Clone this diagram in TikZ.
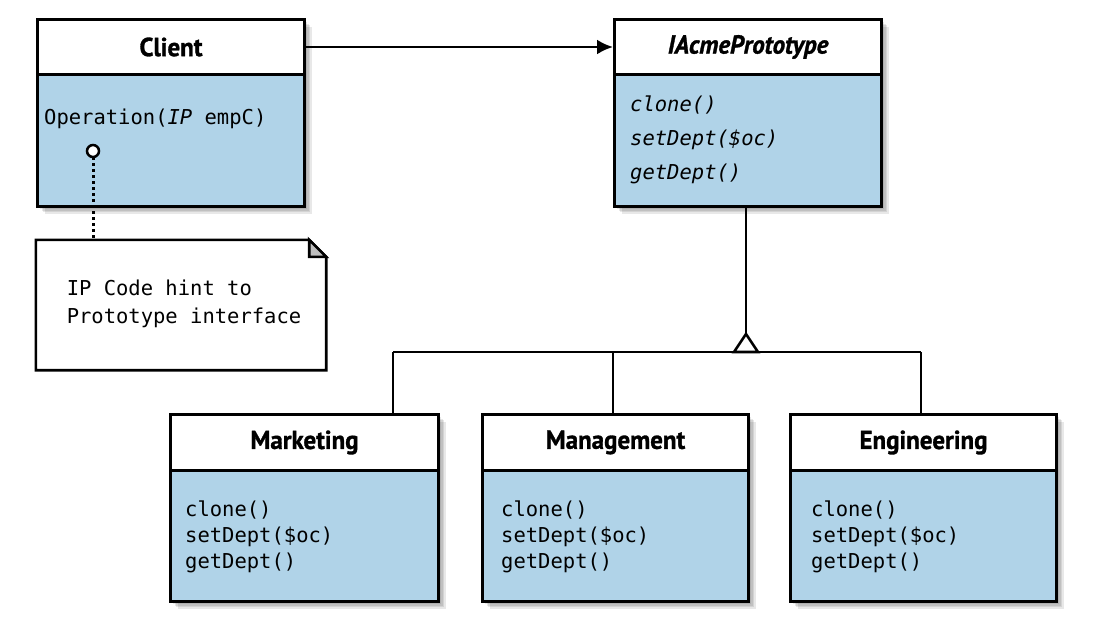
\documentclass[tikz,border=0pt]{standalone}
\usepackage{fontspec}
\setmainfont{PT Sans}
\newfontfamily\hdfont[FakeStretch=0.96,FakeBold=1.2]{PT Sans}
\setmonofont{DejaVu Sans Mono}
\usetikzlibrary{arrows.meta,backgrounds}
\definecolor{boxblue}{RGB}{176,211,232}
\definecolor{foldgray}{RGB}{190,190,190}
\tikzset{
  classbox/.style={draw=none, fill=white, inner sep=0pt, anchor=north west},
  hdr/.style={draw=black, line width=3pt, fill=white, inner sep=0pt, anchor=north west,
    font=\hdfont\bfseries\fontsize{26}{30}\selectfont},
  bdy/.style={draw=black, line width=3pt, fill=boxblue, inner sep=0pt, anchor=north west},
  ops/.style={inner sep=0pt, anchor=west, align=left, font=\ttfamily\fontsize{20.5}{26}\selectfont},
  conn/.style={line width=2.6pt, draw=black},
  shadowlayer/.style={fill=black, opacity=0.09},
}
\newcommand\softshadow[1]{%
  \foreach \s in {1,2.5,4,5.5,7,8.5}{%
    \fill[shadowlayer] ([xshift=\s pt,yshift=-\s pt]#1.south west) rectangle ([xshift=\s pt,yshift=-\s pt]#1.north east);
  }%
}
\begin{document}
\begin{tikzpicture}[x=1pt,y=-1pt]
\useasboundingbox (0,0) rectangle (1099,637);

% Client
\node[classbox, minimum width=267pt, minimum height=187pt] (client) at (36,18) {};
\node[bdy, minimum width=267pt, minimum height=132pt] (client-b) at (36,73) {};
\node[hdr, minimum width=267pt, minimum height=55pt] (client-h) at (36,18) {Client};
\node[ops] (client-op) at (44,119) {Operation(\textit{IP} empC)};

% IAcmePrototype
\node[classbox, minimum width=267pt, minimum height=187pt] (proto) at (613,18) {};
\node[bdy, minimum width=267pt, minimum height=132pt] (proto-b) at (613,73) {};
\node[hdr, minimum width=267pt, minimum height=55pt] (proto-h) at (613,18) {\itshape IAcmePrototype};
\node[ops, font=\ttfamily\itshape\fontsize{20.5}{34}\selectfont] (proto-op) at (630,140) {clone()\\setDept(\$oc)\\getDept()};

% Marketing
\node[classbox, minimum width=268pt, minimum height=187pt] (mk) at (169,413) {};
\node[bdy, minimum width=268pt, minimum height=131pt] (mk-b) at (169,469) {};
\node[hdr, minimum width=268pt, minimum height=56pt] (mk-h) at (169,413) {Marketing};
\node[ops] (mk-op) at (185,537) {clone()\\setDept(\$oc)\\getDept()};

% Management
\node[classbox, minimum width=266pt, minimum height=187pt] (mg) at (481,413) {};
\node[bdy, minimum width=266pt, minimum height=131pt] (mg-b) at (481,469) {};
\node[hdr, minimum width=266pt, minimum height=56pt] (mg-h) at (481,413) {Management};
\node[ops] (mg-op) at (501,537) {clone()\\setDept(\$oc)\\getDept()};

% Engineering
\node[classbox, minimum width=266pt, minimum height=187pt] (en) at (789,413) {};
\node[bdy, minimum width=266pt, minimum height=131pt] (en-b) at (789,469) {};
\node[hdr, minimum width=266pt, minimum height=56pt] (en-h) at (789,413) {Engineering};
\node[ops] (en-op) at (811,537) {clone()\\setDept(\$oc)\\getDept()};

% shadows
\begin{scope}[on background layer]
  \softshadow{client}
  \softshadow{proto}
  \softshadow{mk}
  \softshadow{mg}
  \softshadow{en}
\end{scope}

% Note
\node[inner sep=0pt, minimum width=290pt, minimum height=130pt] (note) at (181,305) {};
\draw[conn, fill=white] (note.north west) -- ([xshift=-17pt]note.north east)
  -- ([yshift=-17pt]note.north east) -- (note.south east) -- (note.south west) -- cycle;
\draw[conn, fill=foldgray, line join=miter] ([xshift=-17pt]note.north east) -- ([xshift=-17pt,yshift=-17pt]note.north east)
  -- ([yshift=-17pt]note.north east) -- cycle;
\node[inner sep=0pt, align=left, font=\ttfamily\fontsize{20.5}{28}\selectfont] (notetext) at ([xshift=3pt,yshift=1pt]note.center)
      {IP Code hint to\\Prototype interface};

% association Client -> IAcmePrototype
\draw[conn, -{Latex[length=16pt,width=15pt]}] (client-h.east) -- (proto-h.west);

% note anchor on Operation parameter
\coordinate (pin) at (93,151);
\draw[line width=3pt, dash pattern=on 3pt off 3pt] ([yshift=-6pt]pin) -- (pin |- note.north);
\node[circle, draw=black, line width=2.5pt, fill=white, minimum size=12pt, inner sep=0pt] (pinc) at (pin) {};

% generalization
\coordinate (apex) at (746,334);
\coordinate (bl) at (393,352);
\coordinate (bm) at (613,352);
\coordinate (br) at (921,352);
\draw[conn] (proto.south -| apex) -- (apex);
\draw[conn] (bl) -- (br);
\draw[conn] (bl) -- (bl |- mk.north);
\draw[conn] (bm) -- (bm |- mg.north);
\draw[conn] (br) -- (br |- en.north);
\draw[conn, fill=white, line join=miter] (apex) -- ([xshift=-12pt,yshift=-18pt]apex) -- ([xshift=12pt,yshift=-18pt]apex) -- cycle;
\end{tikzpicture}
\end{document}
